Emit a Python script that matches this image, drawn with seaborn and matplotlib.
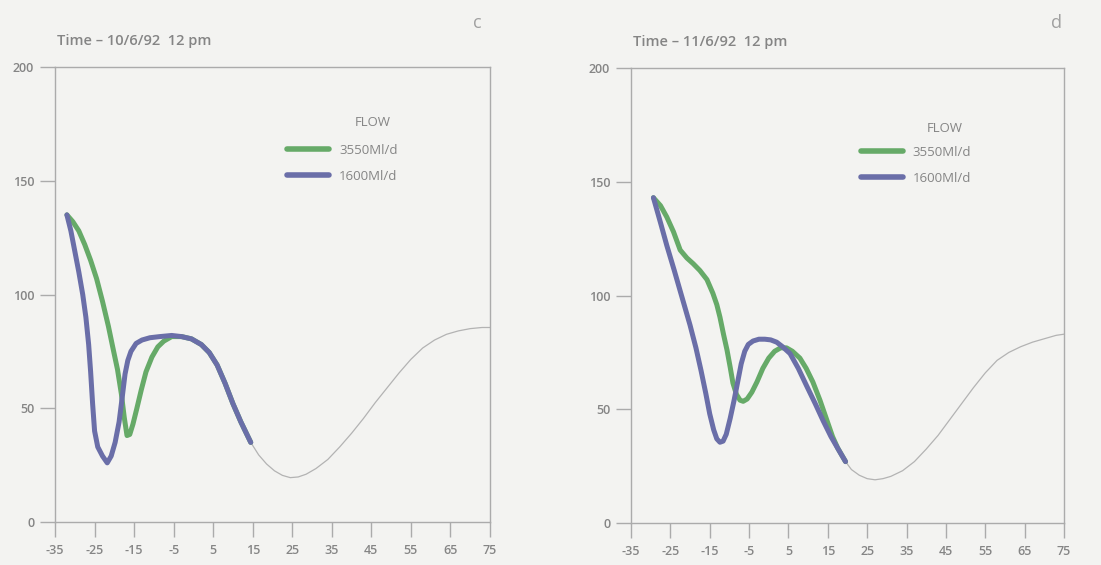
import pandas as pd
import seaborn as sns
from matplotlib import pyplot as plt
from matplotlib.lines import Line2D

# ---- data ----
flows = ["3550Ml/d", "1600Ml/d"]

# panel c : 10/6/92 12 pm
c_x_3550 = [-32, -30.5, -29, -27.5, -26, -24.5, -23, -21.5, -20.3, -19.2, -18.2, -17.5, -16.8, -16.1, -15.3,
            -14.3, -13.2, -12, -10.5, -9, -7.5, -5.5, -3, -0.5, 2, 4, 6, 8, 10, 12, 14.5]
c_y_3550 = [135, 132, 128, 122, 115, 107, 97, 86, 76, 67, 56, 46, 38, 38.5, 43,
            50, 58, 66, 72.5, 77, 79.5, 81.5, 81.5, 80.5, 78, 74.5, 69, 61, 52, 44, 35]
c_x_1600 = [-32, -31, -30, -29, -28, -27.2, -26.5, -26, -25.5, -25, -24.2, -23, -21.8, -20.8, -19.8, -18.8,
            -18, -17.3, -16.6, -15.8, -14.5, -13, -11, -8.5, -5.5, -3, -0.5, 2, 4, 6, 8, 10, 12, 14.5]
c_y_1600 = [135, 128, 119, 110, 100, 90, 78, 66, 52, 40, 33, 29, 26, 29, 35, 44,
            55, 65, 71, 75, 78.5, 80, 81, 81.5, 82, 81.5, 80.5, 78, 74.5, 69, 61, 52, 44, 35]
c_x_bed = [14.5, 16.5, 18.5, 20.5, 22.5, 24.5, 26.5, 28.5, 31, 34, 37, 40, 43, 46, 49, 52, 55, 58, 61, 64,
           67, 70, 73, 75]
c_y_bed = [35, 29.5, 25.5, 22.5, 20.5, 19.5, 19.8, 21, 23.5, 27.5, 33, 39, 45.5, 52.5, 59, 65.5, 71.5, 76.5,
           80, 82.5, 84, 85, 85.5, 85.5]

# panel d : 11/6/92 12 pm
d_x_3550 = [-29.3, -27.5, -25.9, -24.2, -22.5, -20.8, -19.2, -17.5, -15.7, -14.2, -13.2, -12.4, -11.5, -10.6,
            -9.8, -9.1, -8.2, -7.3, -6.5, -5.5, -4.3, -3, -1.5, 0, 1.5, 3, 4.5, 6, 7.9, 9.5, 11.2, 13, 14.8,
            16.2, 17.5, 19.5]
d_y_3550 = [143, 139.5, 134.5, 128, 120, 116.5, 114, 111, 107, 101, 96, 90.5, 83, 76,
            68.5, 61.5, 56.5, 54, 53.5, 54.5, 57.5, 62, 68, 72.5, 75.5, 77, 77, 75.5, 72.5, 68, 62, 54, 45,
            38, 33, 27]
d_x_1600 = [-29.3, -27.5, -25.9, -24, -22, -20, -18.5, -17.2, -16, -15, -14, -13.2, -12.4, -11.6, -10.8,
            -9.8, -8.8, -7.9, -7, -6.1, -5.2, -4, -2.5, -1, 0.5, 2, 3.5, 5.4, 7.5, 9.7, 11.8, 13.8, 15.8,
            17.8, 19.5]
d_y_1600 = [143, 132, 122, 111, 99, 87, 77, 67, 57, 48, 41, 37, 35.5, 36, 39,
            46, 54, 62, 70, 75.5, 78.5, 80, 80.8, 80.8, 80.5, 79.5, 77.5, 74.5, 68, 60, 52.5, 45, 38,
            32, 27]
d_x_bed = [19.5, 21, 23, 25, 27, 29, 31, 34, 37, 40, 43, 46, 49, 52, 55, 58, 61, 64, 67, 70, 73, 75]
d_y_bed = [27, 23.5, 21, 19.5, 19, 19.5, 20.5, 23, 27, 32.5, 38.5, 45.5, 52.5, 59.5, 66, 71.5, 75, 77.5, 79.5,
           81, 82.5, 83]

x_ticks = list(range(-35, 76, 10))
y_ticks = [0, 50, 100, 150, 200]

titles = ["Time \u2013 10/6/92  12 pm", "Time \u2013 11/6/92  12 pm"]
panel_tags = ["c", "d"]

bg = "#f3f3f1"
text_col = "#858585"
axis_col = "#ababab"
palette = {"3550Ml/d": "#66aa68", "1600Ml/d": "#6a6ea8"}

sns.set_style("white", {"xtick.bottom": True, "ytick.left": True})
plt.rcParams["font.family"] = ["Open Sans", "DejaVu Sans"]
plt.rcParams["axes.unicode_minus"] = False

fig = plt.figure(figsize=(11.01, 5.65), dpi=100, facecolor=bg)
axes = [fig.add_axes([0.050, 0.0761, 0.395, 0.8053]),
        fig.add_axes([0.5731, 0.0743, 0.3933, 0.8053])]

panels = [
    (c_x_3550, c_y_3550, c_x_1600, c_y_1600, c_x_bed, c_y_bed),
    (d_x_3550, d_y_3550, d_x_1600, d_y_1600, d_x_bed, d_y_bed),
]
legend_pos = [((0.518, 0.788), (0.731, 0.879)), ((0.515, 0.786), (0.725, 0.868))]

for ax, (xg, yg, xb, yb, xbed, ybed), (leg_xy, flow_xy) in zip(axes, panels, legend_pos):
    ax.set_facecolor(bg)
    df = pd.concat([
        pd.DataFrame({"x": xg, "y": yg, "flow": flows[0]}),
        pd.DataFrame({"x": xb, "y": yb, "flow": flows[1]}),
    ], ignore_index=True)
    bed = pd.DataFrame({"x": xbed, "y": ybed})

    sns.lineplot(data=bed, x="x", y="y", color="#b3b3b3", linewidth=0.9,
                 sort=False, estimator=None, ax=ax)
    sns.lineplot(data=df, x="x", y="y", hue="flow", hue_order=flows, palette=palette,
                 linewidth=3.6, sort=False, estimator=None, legend=False, ax=ax)

    ax.set_xlim(-35, 75)
    ax.set_ylim(0, 200)
    ax.set_xticks(x_ticks)
    ax.set_xticklabels([str(t) for t in x_ticks])
    ax.set_yticks(y_ticks)
    ax.set_xlabel("")
    ax.set_ylabel("")
    for s in ax.spines.values():
        s.set_color(axis_col)
        s.set_linewidth(1.0)
    ax.tick_params(axis="both", which="major", direction="out", length=11, width=1.0,
                   bottom=True, left=True, color=axis_col, labelcolor=text_col, labelsize=9)
    for t in ax.xaxis.get_major_ticks() + ax.yaxis.get_major_ticks():
        t.tick1line.set_visible(True)
        t.tick1line.set_markeredgecolor(axis_col)
    for lab in ax.get_xticklabels() + ax.get_yticklabels():
        lab.set_fontweight("semibold")
    ax.tick_params(axis="x", pad=5)
    ax.tick_params(axis="y", pad=4)

    handles = [Line2D([], [], color=palette[f], linewidth=4.0) for f in flows]
    ax.legend(handles, flows, loc="center left", bbox_to_anchor=leg_xy, frameon=False,
              borderpad=0, fontsize=9.5, labelcolor=text_col, handlelength=3.2,
              handletextpad=0.75, labelspacing=1.0)
    ax.text(*flow_xy, "FLOW", transform=ax.transAxes, ha="center", va="center",
            fontsize=9.5, color=text_col)

fig.text(57 / 1101, 1 - 41 / 565, titles[0], fontsize=10.5, fontweight="semibold", color=text_col,
         ha="left", va="center")
fig.text(633 / 1101, 1 - 42 / 565, titles[1], fontsize=10.5, fontweight="semibold", color=text_col,
         ha="left", va="center")
fig.text(477 / 1101, 1 - 23 / 565, panel_tags[0], fontsize=13, color="#a0a0a0", ha="center", va="center")
fig.text(1056 / 1101, 1 - 23 / 565, panel_tags[1], fontsize=13, color="#a0a0a0", ha="center", va="center")

fig.savefig("out.png", dpi=100, facecolor=bg)
